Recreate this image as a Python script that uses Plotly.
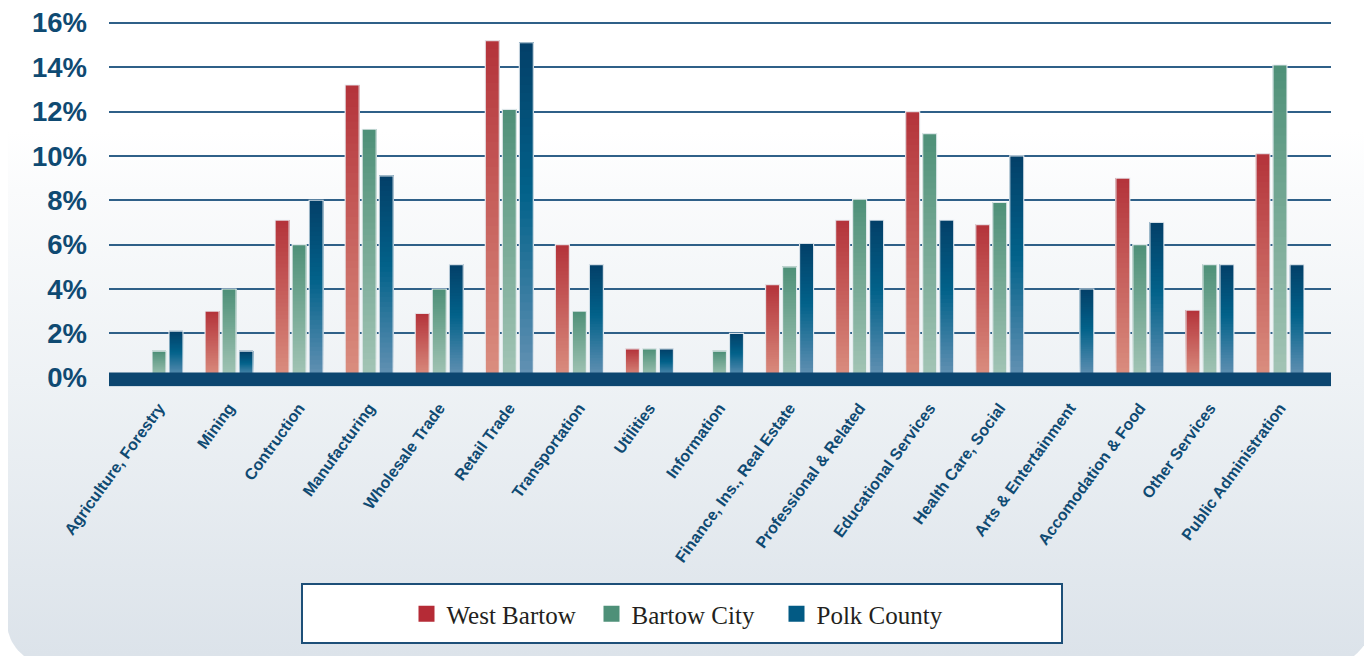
import numpy as np
import plotly.graph_objects as go

# ---------------- data ----------------
categories = [
    "Agriculture, Forestry", "Mining", "Contruction", "Manufacturing",
    "Wholesale Trade", "Retail Trade", "Transportation", "Utilities",
    "Information", "Finance, Ins., Real Estate", "Professional & Related",
    "Educational Services", "Health Care, Social", "Arts & Entertainment",
    "Accomodation & Food", "Other Services", "Public Administration",
]
west_bartow = [0, 3.0, 7.1, 13.2, 2.9, 15.2, 6.0, 1.3, 0, 4.2, 7.1, 12.0, 6.9, 0, 9.0, 3.05, 10.1]
bartow_city = [1.2, 4.0, 6.0, 11.2, 4.0, 12.1, 3.0, 1.3, 1.2, 5.0, 8.05, 11.0, 7.9, 0, 6.0, 5.1, 14.1]
polk_county = [2.1, 1.2, 8.0, 9.1, 5.1, 15.1, 5.1, 1.3, 2.0, 6.05, 7.1, 7.1, 10.0, 4.0, 7.0, 5.1, 5.1]
series_names = ["West Bartow", "Bartow City", "Polk County"]
y_ticks = [0, 2, 4, 6, 8, 10, 12, 14, 16]

# ---------------- styles ----------------
W, H = 1372, 656
OFF = 8  # page body margin: screen position = figure position + OFF
NAVY = "#0f4a72"
legend_colors = ["#b52b36", "#4e9078", "#025a84"]
# gradient stops (fraction from bottom of bar -> colour)
gradients = [
    [(0.0, "#da8f80"), (1.0, "#b4333a")],
    [(0.0, "#a4c5b6"), (1.0, "#4e9078")],
    [(0.0, "#6592b4"), (0.55, "#02628a"), (1.0, "#033f68")],
]
N_SLICES = 40


def hex2rgb(h):
    h = h.lstrip("#")
    return np.array([int(h[i:i + 2], 16) for i in (0, 2, 4)], dtype=float)


def grad_color(stops, f):
    for (f0, c0), (f1, c1) in zip(stops[:-1], stops[1:]):
        if f0 <= f <= f1:
            t = (f - f0) / (f1 - f0) if f1 > f0 else 0
            c = hex2rgb(c0) * (1 - t) + hex2rgb(c1) * t
            return "rgb(%d,%d,%d)" % tuple(np.round(c))
    return stops[-1][1]


def sx(x):  # screen x -> paper fraction
    return (x - OFF) / W


def sy(y):  # screen y -> paper fraction (from bottom)
    return (H - (y - OFF)) / H


fig = go.Figure()

# ---------------- background panel (gradient, rounded bottom corners) ----------------
# background axes are in figure pixels, y measured upward
R = 42
left, right = 7 - OFF, 1371 - OFF
bottom, top = H + OFF - 664, H + 40
th_l = np.linspace(np.pi, 1.5 * np.pi, 20)
th_r = np.linspace(1.5 * np.pi, 2 * np.pi, 20)
px = np.concatenate([[left], left + R + R * np.cos(th_l), right - R + R * np.cos(th_r), [right, left]])
py = np.concatenate([[top], bottom + R + R * np.sin(th_l), bottom + R + R * np.sin(th_r), [top, top]])
fig.add_trace(go.Scatter(
    x=px, y=py, mode="lines", line=dict(width=0), fill="toself",
    fillgradient=dict(type="vertical", start=H + OFF - 656, stop=H + OFF,
                      colorscale=[[0, "#dce3ea"], [0.42, "#eef2f5"], [0.71, "#fafbfc"],
                                  [0.8, "#ffffff"], [1, "#ffffff"]]),
    hoverinfo="skip", showlegend=False, xaxis="x", yaxis="y",
))

# ---------------- bars (gradient built from overlapping slices of each value) ----------------
all_series = [west_bartow, bartow_city, polk_county]
for s, (name, vals) in enumerate(zip(series_names, all_series)):
    vals = np.array(vals, dtype=float)
    for k in range(N_SLICES):
        f = (k + 0.5) / N_SLICES
        # slice k spans from k/N of the value up to the full value; later slices cover the upper part
        fig.add_trace(go.Bar(
            x=categories, y=vals * (N_SLICES - k) / N_SLICES, base=vals * k / N_SLICES,
            offsetgroup=name, marker=dict(color=grad_color(gradients[s], f), line=dict(width=0)),
            showlegend=False, hoverinfo="skip", xaxis="x2", yaxis="y2",
        ))
    # thin light outline
    fig.add_trace(go.Bar(
        x=categories, y=vals, offsetgroup=name, name=name,
        marker=dict(color="rgba(0,0,0,0)", line=dict(color="rgba(236,241,245,0.9)", width=1.2)),
        showlegend=False, hovertemplate="%{x}<br>" + name + ": %{y}%<extra></extra>",
        xaxis="x2", yaxis="y2",
    ))

# legend entries
for name, col in zip(series_names, legend_colors):
    fig.add_trace(go.Scatter(
        x=[None], y=[None], mode="markers", name=name,
        marker=dict(symbol="square", size=18, color=col, line=dict(width=0)),
        xaxis="x2", yaxis="y2",
    ))

# ---------------- layout ----------------
x_dom = [sx(109), sx(1331)]
y_dom = [sy(386.6), sy(11.7)]

fig.update_layout(
    width=W, height=H,
    margin=dict(l=0, r=0, t=0, b=0, pad=0, autoexpand=False),
    paper_bgcolor="white", plot_bgcolor="rgba(0,0,0,0)",
    barmode="group", bargap=0.272, bargroupgap=0.176,
    xaxis=dict(domain=[0, 1], range=[0, W], visible=False, fixedrange=True, automargin=False),
    yaxis=dict(domain=[0, 1], range=[0, H], visible=False, fixedrange=True, automargin=False),
    xaxis2=dict(
        domain=x_dom, anchor="y2", type="category", categoryorder="array",
        categoryarray=categories, range=[-0.7137, 16.728], automargin=False,
        showgrid=False, zeroline=False, showline=False, ticks="",
        tickangle=-54, ticklabelstandoff=8, ticklabeloverflow="allow",
        tickfont=dict(family="Liberation Sans, Arial, sans-serif", size=16, color=NAVY, weight="bold"),
    ),
    yaxis2=dict(
        domain=y_dom, anchor="x2", range=[-0.4, 16.5], automargin=False,
        tickvals=y_ticks, ticktext=["%d%%" % v for v in y_ticks],
        showgrid=True, gridcolor="#2f6088", gridwidth=1.6, zeroline=False,
        showline=False, ticks="", ticklabelstandoff=21, ticklabeloverflow="allow",
        tickfont=dict(family="Liberation Sans, Arial, sans-serif", size=27.5, color=NAVY, weight="bold"),
    ),
    legend=dict(
        orientation="h", x=sx(684), xanchor="center", y=sy(614), yanchor="middle",
        bgcolor="rgba(0,0,0,0)", borderwidth=0,
        font=dict(family="Liberation Serif, Times New Roman, serif", size=25, color="#231f20"),
        entrywidth=140, tracegroupgap=0,
    ),
    shapes=[
        # floor band under the bars
        dict(type="rect", xref="x2 domain", x0=0, x1=1, yref="y2", y0=-0.38, y1=0.24,
             fillcolor="#0c4670", line=dict(width=0), layer="above"),
        # legend frame
        dict(type="rect", xref="paper", yref="paper", x0=sx(302), x1=sx(1062),
             y0=sy(643), y1=sy(584), fillcolor="white",
             line=dict(color="#1d4f78", width=2), layer="above"),
    ],
)

fig.write_html("out.html")
